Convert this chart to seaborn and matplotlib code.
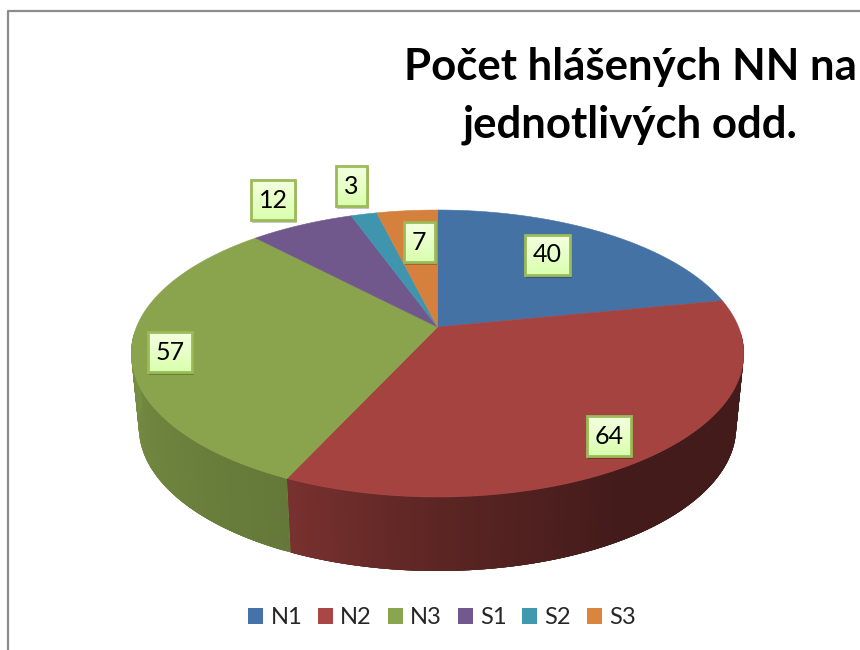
import numpy as np
import matplotlib
matplotlib.use('Agg')
import matplotlib.pyplot as plt
import seaborn as sns
from matplotlib.patches import Patch, Rectangle

# data
categories = ['N1', 'N2', 'N3', 'S1', 'S2', 'S3']
values = [40, 64, 57, 12, 3, 7]
title_text = 'Počet hlášených NN na\njednotlivých odd.'

top_colors = ['#4572A5', '#A44340', '#89A44D', '#71588C', '#3F95AD', '#D5803D']
legend_colors = ['#4572A7', '#AA4643', '#89A54E', '#71588F', '#4198AF', '#DB843D']

# label box centres in pixels
label_pos = [(547, 255), (609, 436), (170, 352), (273, 200), (351, 186), (419, 242)]
label_w = [45, 44, 44, 44, 31, 31]

sns.set_theme(style='white')
plt.rcParams['font.family'] = ['Lato', 'DejaVu Sans']

fig = plt.figure(figsize=(8.6, 6.5), dpi=100)
ax = fig.add_axes([0, 0, 1, 1])
ax.set_xlim(0, 860)
ax.set_ylim(650, 0)
ax.axis('off')

# perspective of the pie disc
cx, cy = 437.5, 327
persp = 0.1847
lift = -78.2
radius = 301
depth = 74


def top_xy(deg):
    t = np.radians(deg)
    u, v = np.sin(t), np.cos(t)
    d = persp * v + 1
    return cx + radius * u / d, (cy + lift * v) / d


def bottom_xy(deg):
    t = np.radians(deg)
    u, v = np.sin(t), np.cos(t)
    d = persp * v + 1
    return cx + radius * 0.975 * u / d, (cy + lift * v) / d + depth


def shade(deg):
    return np.interp(deg, [95, 150, 180, 204, 262], [0.41, 0.41, 0.56, 0.73, 0.86])


edges = np.cumsum([0] + values) / sum(values) * 360
palette = sns.color_palette(top_colors)

# side wall, front half only; each strip overlaps the next so no seams show
for i in range(len(values)):
    a0, a1 = max(edges[i], 92), min(edges[i + 1], 268)
    if a1 <= a0:
        continue
    steps = np.linspace(a0, a1, int(a1 - a0) * 2 + 2)
    for s0, s1 in zip(steps[:-1], steps[1:]):
        s2 = min(s1 + 1.5, a1)
        arc = np.linspace(s0, s2, 6)
        xt, yt = top_xy(arc)
        xb, yb = bottom_xy(arc)
        col = np.array(palette[i]) * shade((s0 + s1) / 2)
        ax.fill(np.r_[xt, xb[::-1]], np.r_[yt, yb[::-1]], color=col, lw=0, zorder=2)

# top face
for i in range(len(values)):
    angles = np.linspace(edges[i], edges[i + 1], 200)
    xs, ys = top_xy(angles)
    ax.fill(np.r_[cx, xs], np.r_[cy, ys], color=palette[i], lw=0.4, zorder=3)

# value labels
grad = np.linspace(0, 1, 40).reshape(-1, 1, 1)
box_img = (1 - grad) * np.array([0.96, 1.0, 0.88]) + grad * np.array([0.85, 1.0, 0.68])
label_h = 40
for val, (px, py), w in zip(values, label_pos, label_w):
    x0, y0 = px - w / 2, py - label_h / 2
    ax.add_patch(Rectangle((x0 + 1, y0 + 2), w + 1, label_h + 1, fc='black', alpha=0.22, lw=0, zorder=4))
    ax.imshow(box_img, extent=(x0, x0 + w, y0 + label_h, y0), aspect='auto', zorder=5)
    ax.add_patch(Rectangle((x0, y0), w, label_h, fc='none', ec='#9BBB59', lw=2, zorder=6))
    ax.text(px, py, str(val), ha='center', va='center', fontsize=18, color='black', zorder=7)
ax.set_xlim(0, 860)
ax.set_ylim(650, 0)

# chart frame, cut off at the right
ax.plot([8, 8, 860], [650, 11, 11], color='#8C8C8C', lw=1.6, zorder=1)

ax.text(630, 96, title_text, ha='center', va='center', fontsize=31.5, fontweight='bold',
        color='black', linespacing=1.56, zorder=7)

handles = [Patch(fc=c, ec='none', label=n) for c, n in zip(legend_colors, categories)]
ax.legend(handles=handles, ncol=6, loc='center', bbox_to_anchor=(442 / 860, 1 - 618 / 650),
          frameon=False, fontsize=17, handlelength=0.64, handleheight=0.64,
          handletextpad=0.3, columnspacing=0.67, borderpad=0)

fig.savefig('out.png', dpi=100, facecolor='white')
plt.close(fig)
